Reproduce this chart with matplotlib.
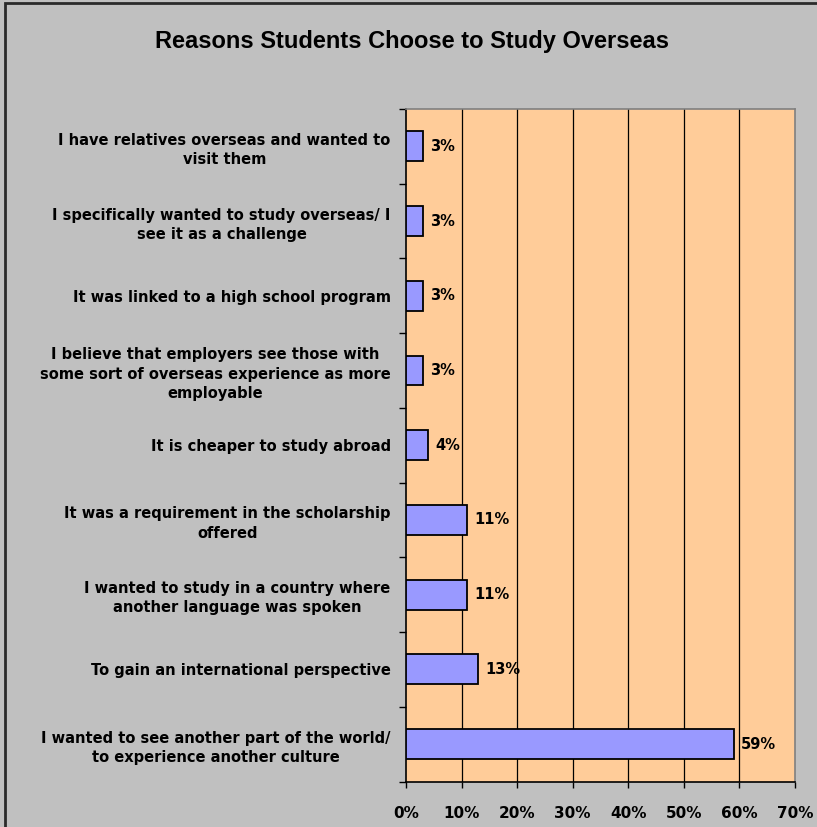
import matplotlib.pyplot as plt
import matplotlib.patches as patches
from matplotlib.ticker import FixedLocator, NullFormatter

# survey reasons, top to bottom as shown
reasons = [
    "I have relatives overseas and wanted to\nvisit them",
    "I specifically wanted to study overseas/ I\nsee it as a challenge",
    "It was linked to a high school program",
    "I believe that employers see those with\nsome sort of overseas experience as more\nemployable",
    "It is cheaper to study abroad",
    "It was a requirement in the scholarship\noffered",
    "I wanted to study in a country where\nanother language was spoken",
    "To gain an international perspective",
    "I wanted to see another part of the world/\nto experience another culture",
]
percents = [3, 3, 3, 3, 4, 11, 11, 13, 59]
xticks = [0, 10, 20, 30, 40, 50, 60, 70]

plt.rcParams['font.family'] = ['DejaVu Sans']

fig = plt.figure(figsize=(8.17, 8.27), dpi=100, facecolor='#C0C0C0')
ax = fig.add_axes([406 / 817, 1 - 781.5 / 827, (795 - 406) / 817, (781.5 - 109) / 827])
ax.set_facecolor('#FFCC99')

n = len(reasons)
ypos = list(range(n))[::-1]
ax.barh(ypos, percents, height=0.4, color='#9999FF', edgecolor='black', linewidth=1.3, zorder=3)

for y, v in zip(ypos, percents):
    ax.text(v + 1.3, y, f"{v}%", va='center', ha='left', fontsize=10.5, fontweight='bold', zorder=4)

ax.set_xlim(0, 70)
ax.set_ylim(-0.5, n - 0.5)

ax.set_xticks(xticks)
ax.set_xticklabels([f"{t}%" for t in xticks], fontsize=11, fontweight='bold')
ax.tick_params(axis='x', direction='out', length=4, width=1, pad=14, colors='black')
for t in xticks[1:-1]:
    ax.axvline(t, color='black', lw=0.9, zorder=1)

# category labels centred on slots, ticks on slot boundaries
ax.set_yticks(ypos)
ax.set_yticklabels(reasons, fontsize=10.5, fontweight='bold', multialignment='center', linespacing=1.35)
ax.tick_params(axis='y', length=0, pad=11)
ax.yaxis.set_minor_locator(FixedLocator([i - 0.5 for i in range(n + 1)]))
ax.yaxis.set_minor_formatter(NullFormatter())
ax.tick_params(axis='y', which='minor', direction='out', length=5, width=1)

ax.spines['left'].set_color('black')
ax.spines['bottom'].set_color('black')
ax.spines['top'].set_color('#808080')
ax.spines['right'].set_color('#808080')
for s in ax.spines.values():
    s.set_linewidth(1.2)

fig.text(412 / 817, 1 - 48 / 827, "Reasons Students Choose to Study Overseas",
         ha='center', va='baseline', fontsize=17, fontweight='bold', family='Liberation Sans')

# chart frame
fig.patches.append(patches.Rectangle((5 / 817, -0.1), 1.2, (827 - 3) / 827 + 0.1,
                                     transform=fig.transFigure, fill=False,
                                     edgecolor='#2a2a2a', linewidth=2))

fig.savefig('out.png', dpi=100, facecolor=fig.get_facecolor())
